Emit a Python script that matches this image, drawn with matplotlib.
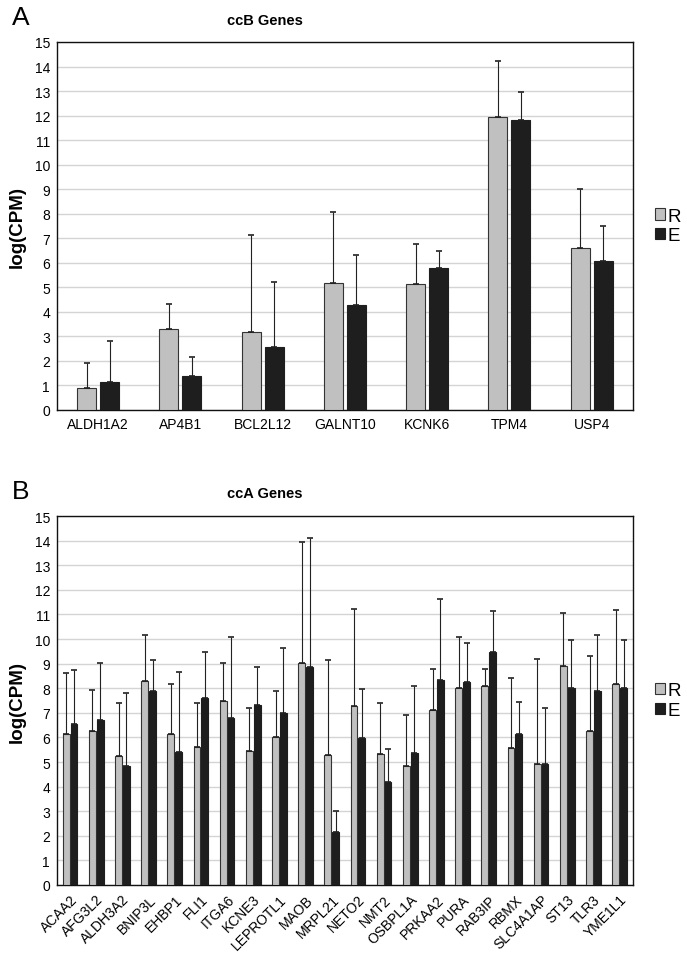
import numpy as np
import matplotlib
matplotlib.use("Agg")
import matplotlib.pyplot as plt
from matplotlib import font_manager

plt.rcParams["font.family"] = ["Liberation Sans", "DejaVu Sans"]

# ---------------- data -------------------------------------------------------
genes_b = ["ALDH1A2", "AP4B1", "BCL2L12", "GALNT10", "KCNK6", "TPM4", "USP4"]
r_b = [0.90, 3.29, 3.18, 5.16, 5.12, 11.95, 6.61]
r_b_top = [1.92, 4.31, 7.13, 8.05, 6.75, 14.23, 8.99]
e_b = [1.13, 1.39, 2.57, 4.26, 5.78, 11.81, 6.08]
e_b_top = [2.83, 2.18, 5.20, 6.30, 6.46, 12.95, 7.48]

genes_a = ["ACAA2", "AFG3L2", "ALDH3A2", "BNIP3L", "EHBP1", "FLI1", "ITGA6",
           "KCNE3", "LEPROTL1", "MAOB", "MRPL21", "NETO2", "NMT2", "OSBPL1A",
           "PRKAA2", "PURA", "RAB3IP", "RBMX", "SLC4A1AP", "ST13", "TLR3", "YME1L1"]
r_a = [6.13, 6.24, 5.24, 8.29, 6.13, 5.62, 7.50, 5.45, 6.00, 9.02, 5.29,
       7.27, 5.33, 4.82, 7.12, 7.99, 8.07, 5.58, 4.90, 8.89, 6.24, 8.19]
r_a_top = [8.61, 7.93, 7.39, 10.18, 8.19, 7.39, 9.02, 7.19, 7.89, 13.95, 9.13,
           11.21, 7.39, 6.90, 8.80, 10.10, 8.80, 8.40, 9.18, 11.05, 9.29, 11.17]
e_a = [6.54, 6.71, 4.84, 7.87, 5.42, 7.61, 6.79, 7.32, 7.00, 8.86, 2.17,
       5.96, 4.17, 5.37, 8.33, 8.25, 9.48, 6.13, 4.90, 8.02, 7.87, 7.99]
e_a_top = [8.72, 9.02, 7.81, 9.13, 8.64, 9.47, 10.10, 8.85, 9.62, 14.12, 2.99,
           7.95, 5.53, 8.10, 11.63, 9.85, 11.13, 7.45, 7.19, 9.97, 10.15, 9.95]

GRAY = "#c0c0c0"
BLACK = "#1e1e1e"

# narrow face for the gene names if it is there, else plain Liberation Sans
names = {f.name for f in font_manager.fontManager.ttflist}
LABEL_FONT = ["Liberation Sans Narrow"] if "Liberation Sans Narrow" in names else ["Liberation Sans"]
LABEL_SIZE = 12 if "Liberation Sans Narrow" in names else 10


def draw_panel(ax, genes, r, r_top, e, e_top, width, gap, rotate):
    x = np.arange(len(genes))
    r = np.array(r)
    e = np.array(e)
    r_err = np.array(r_top) - r
    e_err = np.array(e_top) - e
    off = width / 2 + gap / 2
    ekw = dict(ecolor="#222222", elinewidth=0.8, capsize=2.5, capthick=1.2)
    ax.bar(x - off, r, width, color=GRAY, edgecolor="#333333", linewidth=0.8,
           yerr=[np.zeros_like(r), r_err], error_kw=ekw, label="R", zorder=3)
    ax.bar(x + off, e, width, color=BLACK, edgecolor=BLACK, linewidth=0.8,
           yerr=[np.zeros_like(e), e_err], error_kw=ekw, label="E", zorder=3)
    ax.set_xlim(-0.5, len(genes) - 0.5)
    ax.set_ylim(0, 15)
    ax.set_yticks(range(0, 16))
    ax.yaxis.grid(True, color="#d4d4d4", linewidth=1.0, zorder=0)
    ax.set_axisbelow(True)
    ax.tick_params(axis="y", length=0, labelsize=10, pad=5)
    ax.tick_params(axis="x", length=0, pad=5)
    ax.set_xticks(x)
    if rotate:
        ax.set_xticklabels(genes, rotation=45, ha="right", rotation_mode="anchor",
                           fontsize=LABEL_SIZE, family=LABEL_FONT)
    else:
        ax.set_xticklabels(genes, fontsize=LABEL_SIZE, family=LABEL_FONT)
    for s in ax.spines.values():
        s.set_color("#111111")
        s.set_linewidth(1.0)
    ax.set_ylabel("log(CPM)", fontsize=13.5, fontweight="bold", labelpad=6)
    ax.legend(loc="center left", bbox_to_anchor=(1.025, 0.5), frameon=False,
              fontsize=13.5, handlelength=0.55, handleheight=0.55,
              handletextpad=0.15, labelspacing=0.15, borderaxespad=0)


fig = plt.figure(figsize=(6.87, 9.70), dpi=100)
ax_a = fig.add_axes([0.083, 0.5763, 0.838, 0.3794])
ax_b = fig.add_axes([0.083, 0.0866, 0.838, 0.3804])

draw_panel(ax_a, genes_b, r_b, r_b_top, e_b, e_b_top, 0.23, 0.05, False)
draw_panel(ax_b, genes_a, r_a, r_a_top, e_a, e_a_top, 0.26, 0.04, True)

fig.text(265 / 687, 1 - 21 / 970, "ccB Genes", ha="center", va="center",
         fontsize=10.5, fontweight="bold")
fig.text(265 / 687, 1 - 494 / 970, "ccA Genes", ha="center", va="center",
         fontsize=10.5, fontweight="bold")
fig.text(12 / 687, 1 - 18 / 970, "A", ha="left", va="center", fontsize=19)
fig.text(12 / 687, 1 - 492 / 970, "B", ha="left", va="center", fontsize=19)

fig.savefig("out.png", dpi=100)
